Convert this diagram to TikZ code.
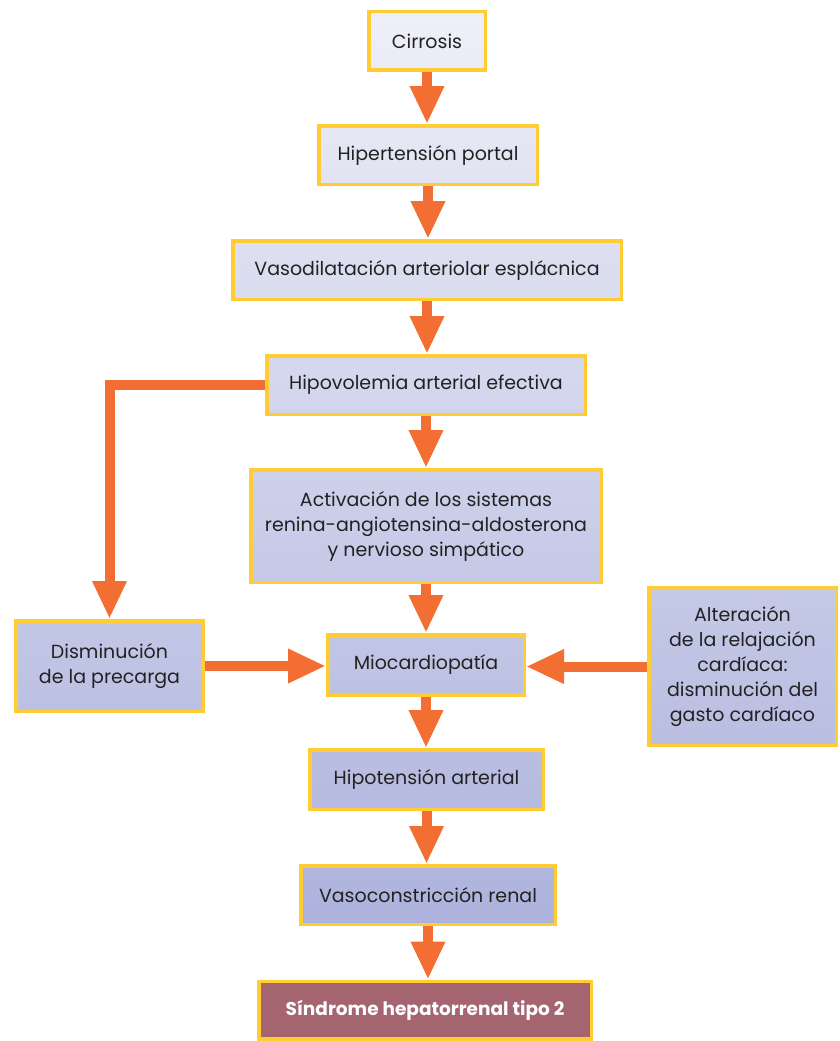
\documentclass[tikz,border=0pt]{standalone}
\usepackage{fontspec}
\setmainfont{Poppins}
\usetikzlibrary{arrows.meta}
\definecolor{boxlight}{HTML}{EFF0F8}
\definecolor{boxdark}{HTML}{ACB2DC}
\definecolor{boxborder}{HTML}{FFCC33}
\definecolor{arrorange}{HTML}{F26E32}
\definecolor{txt}{HTML}{222222}
\definecolor{finalfill}{HTML}{A46570}
\tikzset{
  box/.style={draw=boxborder, line width=3.5pt, inner sep=0pt, align=center,
    text=txt, font=\fontsize{19}{25}\selectfont},
  arr/.style={draw=arrorange, line width=10pt,
    -{Triangle[width=32pt,length=38pt]}},
}
% \mkbox{name}{x1}{y1}{x2}{y2}{text}
\newcommand{\mkbox}[6]{%
  \pgfmathsetmacro{\pa}{#3/9.3}\pgfmathsetmacro{\pb}{#5/9.3}%
  \colorlet{ctop}{boxdark!\pa!boxlight}\colorlet{cbot}{boxdark!\pb!boxlight}%
  \node[box, top color=ctop, bottom color=cbot,
    minimum width={#4-#2-3.5pt}, minimum height={#5-#3-3.5pt}]
    (#1) at ({(#2+#4)/2},{(#3+#5)/2}) {#6};}
\begin{document}
\begin{tikzpicture}[x=1pt,y=-1pt]
\useasboundingbox (0,0) rectangle (840,1041);
\mkbox{cir}{367}{10}{487}{72}{Cirrosis}
\mkbox{hip}{317}{124}{539}{186}{Hipertensión portal}
\mkbox{vas}{231}{239}{623}{301}{Vasodilatación arteriolar esplácnica}
\mkbox{hvo}{265}{354}{587}{416}{Hipovolemia arterial efectiva}
\mkbox{act}{249}{468}{603}{584}{Activación de los sistemas\\renina-angiotensina-aldosterona\\y nervioso simpático}
\mkbox{mio}{326}{633}{526}{697}{Miocardiopatía}
\mkbox{dis}{14}{619}{205}{713}{Disminución\\de la precarga}
\mkbox{alt}{647}{586}{838}{747}{Alteración\\de la relajación\\cardíaca:\\disminución del\\gasto cardíaco}
\mkbox{hta}{308}{748}{545}{811}{Hipotensión arterial}
\mkbox{vcr}{299}{864}{557}{926}{Vasoconstricción renal}
\node[draw=boxborder, line width=3.5pt, fill=finalfill, text=white,
  font=\fontsize{18.5}{22}\selectfont\bfseries, inner sep=0pt,
  minimum width=332.5pt, minimum height=57.5pt] (shr) at (425,1010)
  {Síndrome hepatorrenal tipo 2};
\draw[arr] (cir.south) -- (cir.south |- hip.north);
\draw[arr] (hip.south) -- (hip.south |- vas.north);
\draw[arr] (vas.south) -- (vas.south |- hvo.north);
\draw[arr] (hvo.south) -- (hvo.south |- act.north);
\draw[arr] (act.south) -- (act.south |- mio.north);
\draw[arr] (mio.south) -- (mio.south |- hta.north);
\draw[arr] (hta.south) -- (hta.south |- vcr.north);
\draw[arr] (vcr.south) -- (vcr.south |- shr.north);
\draw[arr] (hvo.west) -| (dis.north);
\draw[arr] (dis.east) -- (dis.east -| mio.west);
\draw[arr] (alt.west) -- (alt.west -| mio.east);
\end{tikzpicture}
\end{document}
